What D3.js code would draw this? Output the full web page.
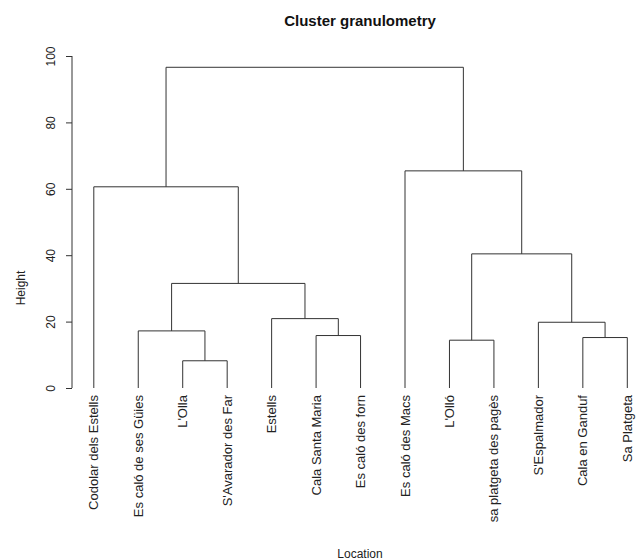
<!DOCTYPE html>
<html>
<head>
<meta charset="utf-8">
<script src="https://cdn.jsdelivr.net/npm/d3@7"></script>
<style>
  html, body { margin: 0; padding: 0; background: #fff; }
  svg { display: block; font-family: "Liberation Sans", Arial, sans-serif; }
</style>
</head>
<body>
<svg id="chart" width="640" height="560"></svg>
<script>
// Leaves in display order
const leafLabels = [
  "Codolar dels Estells", "Es caló de ses Güies", "L'Olla", "S'Avarador des Far",
  "Estells", "Cala Santa Maria", "Es caló des forn", "Es caló des Macs",
  "L'Olló", "sa platgeta des pagès", "S'Espalmador", "Cala en Ganduf", "Sa Platgeta"
];
// hclust-style merges: negative = leaf (1-based), positive = earlier merge step
const mergeLeft   = [-3, -9, -12, -6, -2, -11, -5, 5, 2, -1, -8, 10];
const mergeRight  = [-4, -10, -13, -7, 1, 3, 4, 7, 6, 8, 9, 11];
const mergeHeight = [8.2, 14.4, 15.2, 15.8, 17.2, 19.8, 20.9, 31.5, 40.4, 60.6, 65.4, 96.6];
const yTicks = [0, 20, 40, 60, 80, 100];

const title = "Cluster granulometry";
const xTitle = "Location";
const yTitle = "Height";

// Build nested tree
function node(ref) {
  if (ref < 0) return { name: leafLabels[-ref - 1], order: -ref, height: 0 };
  const i = ref - 1;
  return { height: mergeHeight[i], children: [node(mergeLeft[i]), node(mergeRight[i])] };
}
const root = d3.hierarchy(node(mergeHeight.length));

const svg = d3.select("#chart");
const x = d3.scaleLinear().domain([1, leafLabels.length]).range([93.8, 627.3]);
const y = d3.scaleLinear().domain([0, 100]).range([388, 56]);

// compute positions
root.eachAfter(d => {
  if (!d.children) d.px = x(d.data.order);
  else d.px = (d.children[0].px + d.children[1].px) / 2;
  d.py = y(d.data.height);
});

const ink = "#333";
const g = svg.append("g");
// dendrogram segments
root.each(d => {
  if (d.children) {
    const [a, b] = d.children;
    const p = d3.path();
    p.moveTo(a.px, a.py);
    p.lineTo(a.px, d.py);
    p.lineTo(b.px, d.py);
    p.lineTo(b.px, b.py);
    g.append("path").attr("d", p.toString())
      .attr("fill", "none").attr("stroke", ink).attr("stroke-width", 1);
  }
});

// leaf labels
root.leaves().forEach(d => {
  svg.append("text")
    .attr("transform", `translate(${d.px},395) rotate(-90)`)
    .attr("text-anchor", "end")
    .attr("dy", "0.35em")
    .attr("font-size", 13)
    .attr("fill", "#222")
    .text(d.data.name);
});

// y axis
const axis = d3.axisLeft(y).tickValues(yTicks).tickSize(6).tickFormat(d3.format("d"));
const ax = svg.append("g").attr("transform", "translate(72,0)").call(axis);
ax.select(".domain").attr("d", `M0,${y(0)}V${y(100)}`).attr("stroke", ink);
ax.selectAll(".tick line").attr("stroke", ink);
ax.selectAll(".tick text")
  .attr("x", null).attr("dy", null)
  .attr("transform", "translate(-17,0) rotate(-90)")
  .attr("text-anchor", "middle")
  .attr("font-size", 12)
  .attr("font-family", "Liberation Sans, Arial, sans-serif")
  .attr("fill", "#222");

// titles
svg.append("text").attr("x", 360).attr("y", 26).attr("text-anchor", "middle")
  .attr("font-size", 15).attr("font-weight", "bold").attr("fill", "#111").text(title);
svg.append("text").attr("x", 360).attr("y", 558).attr("text-anchor", "middle")
  .attr("font-size", 12).attr("fill", "#222").text(xTitle);
svg.append("text").attr("transform", "translate(25,288) rotate(-90)")
  .attr("text-anchor", "middle").attr("font-size", 12).attr("fill", "#222").text(yTitle);
</script>
</body>
</html>
